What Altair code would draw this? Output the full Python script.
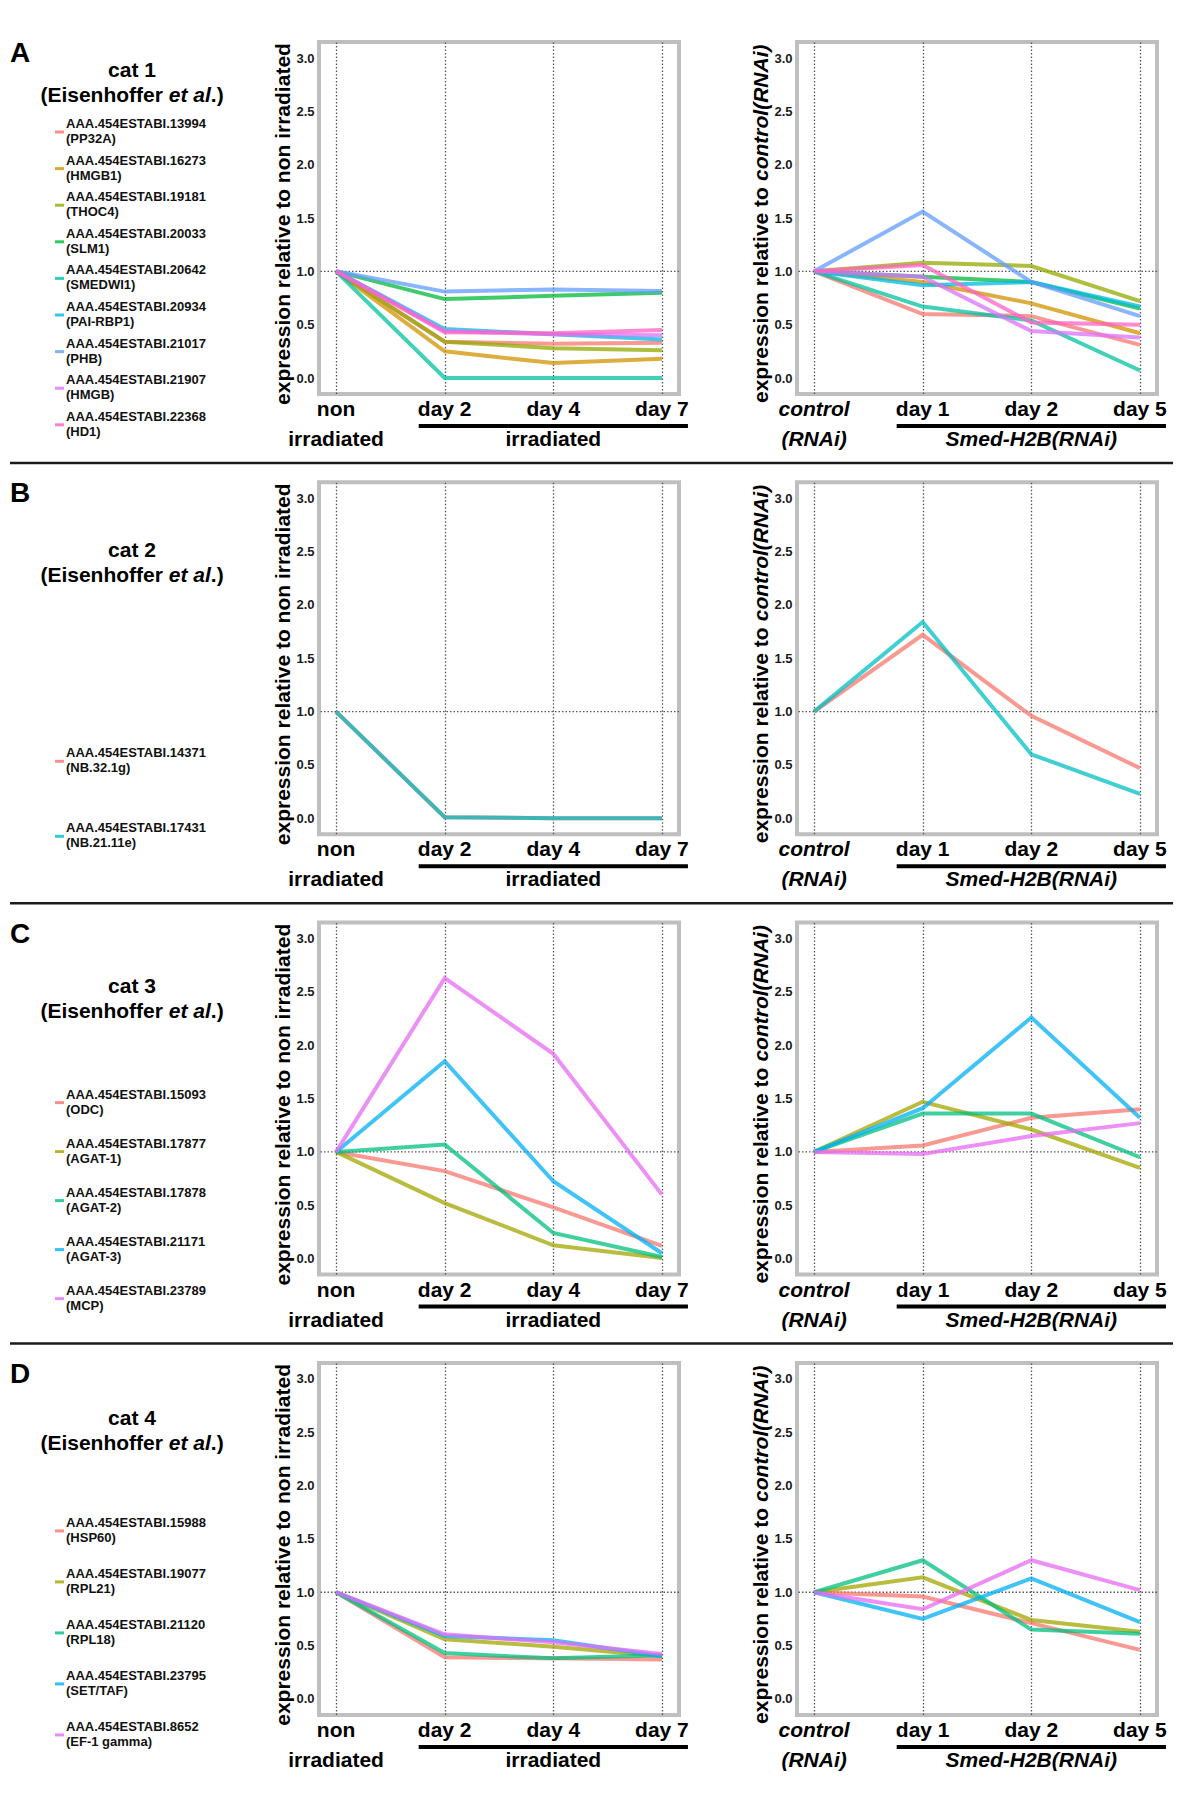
import altair as alt
import pandas as pd

FONT = "Liberation Sans"

# ---------------- data ----------------
LEFT_CATS = ["non", "day 2", "day 4", "day 7"]
RIGHT_CATS = ["control", "day 1", "day 2", "day 5"]

PAL9 = ["#F8766D", "#D39200", "#93AA00", "#00BA38", "#00C19F", "#00B9E3", "#619CFF", "#DB72FB", "#FF61C3"]
PAL2 = ["#F8766D", "#00BFC4"]
PAL5 = ["#F8766D", "#A3A500", "#00BF7D", "#00B0F6", "#E76BF3"]

# Row A  (cat 1)
A_IDS = ["AAA.454ESTABI.13994", "AAA.454ESTABI.16273", "AAA.454ESTABI.19181",
         "AAA.454ESTABI.20033", "AAA.454ESTABI.20642", "AAA.454ESTABI.20934",
         "AAA.454ESTABI.21017", "AAA.454ESTABI.21907", "AAA.454ESTABI.22368"]
A_NAMES = ["(PP32A)", "(HMGB1)", "(THOC4)", "(SLM1)", "(SMEDWI1)", "(PAI-RBP1)", "(PHB)", "(HMGB)", "(HD1)"]
A_IRR = [
    [1.0, 0.34, 0.32, 0.33],
    [1.0, 0.25, 0.14, 0.18],
    [1.0, 0.34, 0.28, 0.26],
    [1.0, 0.74, 0.77, 0.80],
    [1.0, 0.00, 0.00, 0.00],
    [1.0, 0.46, 0.41, 0.36],
    [1.0, 0.81, 0.83, 0.815],
    [1.0, 0.44, 0.41, 0.40],
    [1.0, 0.43, 0.42, 0.45],
]
A_RNAI = [
    [1.0, 0.60, 0.58, 0.31],
    [1.0, 0.90, 0.70, 0.42],
    [1.0, 1.08, 1.05, 0.72],
    [1.0, 0.95, 0.90, 0.65],
    [1.0, 0.67, 0.54, 0.07],
    [1.0, 0.87, 0.90, 0.67],
    [1.0, 1.56, 0.90, 0.58],
    [1.0, 0.95, 0.44, 0.38],
    [1.0, 1.06, 0.52, 0.50],
]

# Row B  (cat 2)
B_IDS = ["AAA.454ESTABI.14371", "AAA.454ESTABI.17431"]
B_NAMES = ["(NB.32.1g)", "(NB.21.11e)"]
B_IRR = [
    [1.0, 0.01, 0.00, 0.00],
    [1.0, 0.01, 0.00, 0.00],
]
B_RNAI = [
    [1.0, 1.72, 0.96, 0.47],
    [1.0, 1.84, 0.60, 0.23],
]

# Row C  (cat 3)
C_IDS = ["AAA.454ESTABI.15093", "AAA.454ESTABI.17877", "AAA.454ESTABI.17878",
         "AAA.454ESTABI.21171", "AAA.454ESTABI.23789"]
C_NAMES = ["(ODC)", "(AGAT-1)", "(AGAT-2)", "(AGAT-3)", "(MCP)"]
C_IRR = [
    [1.0, 0.82, 0.48, 0.12],
    [1.0, 0.52, 0.125, 0.005],
    [1.0, 1.07, 0.24, 0.015],
    [1.0, 1.85, 0.725, 0.05],
    [1.0, 2.63, 1.92, 0.60],
]
C_RNAI = [
    [1.0, 1.06, 1.32, 1.40],
    [1.0, 1.47, 1.21, 0.85],
    [1.0, 1.36, 1.36, 0.95],
    [1.0, 1.41, 2.26, 1.32],
    [1.0, 0.98, 1.15, 1.27],
]

# Row D  (cat 4)
D_IDS = ["AAA.454ESTABI.15988", "AAA.454ESTABI.19077", "AAA.454ESTABI.21120",
         "AAA.454ESTABI.23795", "AAA.454ESTABI.8652"]
D_NAMES = ["(HSP60)", "(RPL21)", "(RPL18)", "(SET/TAF)", "(EF-1 gamma)"]
D_IRR = [
    [1.0, 0.39, 0.38, 0.37],
    [1.0, 0.56, 0.49, 0.40],
    [1.0, 0.43, 0.38, 0.41],
    [1.0, 0.59, 0.55, 0.40],
    [1.0, 0.605, 0.53, 0.42],
]
D_RNAI = [
    [1.0, 0.96, 0.71, 0.46],
    [1.0, 1.14, 0.74, 0.63],
    [1.0, 1.30, 0.65, 0.61],
    [1.0, 0.75, 1.13, 0.72],
    [1.0, 0.84, 1.30, 1.02],
]

Y_TICKS = [0.0, 0.5, 1.0, 1.5, 2.0, 2.5, 3.0]

# x-axis label text (line 1, line 2, group bar)
LEFT_LABELS = {
    "line1": [("non", "non", False), ("day 2", "day 2", False), ("day 4", "day 4", False), ("day 7", "day 7", False)],
    "line2": [("non", "irradiated", False), ("day 4", "irradiated", False)],
    "bar": ("day 2", "day 7"),
}
RIGHT_LABELS = {
    "line1": [("control", "control", True), ("day 1", "day 1", False), ("day 2", "day 2", False), ("day 5", "day 5", False)],
    "line2": [("control", "(RNAi)", True), ("day 2", "Smed-H2B(RNAi)", True)],
    "bar": ("day 1", "day 5"),
}

PW, PH = 360, 352
BORDER = alt.ViewBackground(stroke="#bfbfbf", strokeWidth=4)
NOBORDER = alt.ViewBackground(stroke="transparent")


def single(text):
    return pd.DataFrame({"t": [text]})


def plot_panel(ids, series, pal, cats, labels, side):
    rows = []
    for gi, (gid, vals) in enumerate(zip(ids, series)):
        for xi, (c, v) in enumerate(zip(cats, vals)):
            rows.append({"gene": gid, "gi": gi, "cat": c, "xi": xi, "value": v, "col": pal[gi]})
    df = pd.DataFrame(rows)

    xscale = alt.Scale(type="point", domain=cats, padding=0.157)
    xaxis = alt.Axis(grid=True, gridDash=[1.5, 2], gridColor="#555555", gridWidth=1.3,
                     labels=False, ticks=False, domain=False, title=None)
    yscale = alt.Scale(domain=[-0.15, 3.15], nice=False, zero=False)
    yaxis = alt.Axis(values=Y_TICKS, format=".1f", labelFont=FONT, labelFontWeight="bold",
                     labelFontSize=13, labelColor="#1a1a1a", ticks=False, tickSize=0,
                     labelPadding=5, domain=False, grid=False, title=None)

    def X(field):
        return alt.X(f"{field}:N", scale=xscale, axis=xaxis)

    hline = alt.Chart(pd.DataFrame({"v": [1.0]})).mark_rule(
        strokeDash=[1.5, 2], color="#555555", strokeWidth=1.3
    ).encode(y=alt.Y("v:Q", scale=yscale, axis=yaxis))

    lines = alt.Chart(df).mark_line(strokeWidth=4, opacity=0.75, strokeCap="butt").encode(
        x=X("cat"),
        y=alt.Y("value:Q", scale=yscale, axis=yaxis),
        color=alt.Color("col:N", scale=None),
        detail="gene:N",
        order="xi:Q",
    )

    layers = [hline, lines]

    for key, ypos in (("line1", 374), ("line2", 404)):
        for ital in (False, True):
            items = [(c, t) for (c, t, it) in labels[key] if it == ital]
            if not items:
                continue
            ldf = pd.DataFrame({"cat": [c for c, _ in items], "txt": [t for _, t in items]})
            layers.append(
                alt.Chart(ldf).mark_text(
                    align="center", baseline="alphabetic", fontSize=21, fontWeight="bold",
                    font=FONT, color="#000000", fontStyle="italic" if ital else "normal"
                ).encode(x=X("cat"), y=alt.value(ypos), text="txt:N")
            )

    b0, b1 = labels["bar"]
    layers.append(
        alt.Chart(pd.DataFrame({"a": [b0], "b": [b1]})).mark_rule(
            strokeWidth=4, color="#000000", xOffset=-26, x2Offset=26
        ).encode(x=X("a"), x2=alt.X2("b"), y=alt.value(384))
    )

    if side == "left":
        layers.append(
            alt.Chart(single("expression relative to non irradiated")).mark_text(
                angle=270, align="center", baseline="middle", fontSize=21, fontWeight="bold",
                font=FONT, color="#000000"
            ).encode(x=alt.value(-35), y=alt.value(182), text="t:N")
        )
    else:
        layers.append(
            alt.Chart(single("expression relative to")).mark_text(
                angle=270, align="left", baseline="middle", fontSize=21, fontWeight="bold",
                font=FONT, color="#000000"
            ).encode(x=alt.value(-35), y=alt.value(361), text="t:N")
        )
        layers.append(
            alt.Chart(single("control(RNAi)")).mark_text(
                angle=270, align="left", baseline="middle", fontSize=21, fontWeight="bold",
                fontStyle="italic", font=FONT, color="#000000"
            ).encode(x=alt.value(-35), y=alt.value(139), text="t:N")
        )

    return alt.layer(*layers).properties(width=PW, height=PH, view=BORDER)


def legend_panel(letter, cat_label, ids, names, pal, title_y, y0, step, separator):
    n = len(ids)
    df = pd.DataFrame({"idx": list(range(n)), "gid": ids, "name": names, "col": pal[:n]})
    ysc = alt.Scale(domain=[0, 1], range=[y0, y0 + step], nice=False, zero=False)
    yenc = alt.Y("idx:Q", scale=ysc, axis=None)
    base = alt.Chart(df)

    sw = base.mark_rule(strokeWidth=3, yOffset=8, opacity=0.8).encode(
        x=alt.value(45), x2=alt.value(54), y=yenc, color=alt.Color("col:N", scale=None)
    )
    t1 = base.mark_text(align="left", baseline="middle", fontSize=13, fontWeight="bold",
                        font=FONT, color="#111111").encode(x=alt.value(56), y=yenc, text="gid:N")
    t2 = base.mark_text(align="left", baseline="middle", fontSize=13, fontWeight="bold",
                        font=FONT, color="#111111", dy=15).encode(x=alt.value(56), y=yenc, text="name:N")

    let = alt.Chart(single(letter)).mark_text(
        align="left", baseline="alphabetic", fontSize=28, fontWeight="bold", font=FONT, color="#000000"
    ).encode(x=alt.value(0), y=alt.value(20), text="t:N")

    cat = alt.Chart(single(cat_label)).mark_text(
        align="center", baseline="alphabetic", fontSize=21, fontWeight="bold", font=FONT, color="#000000"
    ).encode(x=alt.value(122), y=alt.value(title_y), text="t:N")

    e1 = alt.Chart(single("(Eisenhoffer")).mark_text(
        align="left", baseline="alphabetic", fontSize=21, fontWeight="bold", font=FONT, color="#000000"
    ).encode(x=alt.value(30.4), y=alt.value(title_y + 25), text="t:N")
    e2 = alt.Chart(single("et al")).mark_text(
        align="left", baseline="alphabetic", fontSize=21, fontWeight="bold", fontStyle="italic",
        font=FONT, color="#000000"
    ).encode(x=alt.value(158.8), y=alt.value(title_y + 25), text="t:N")
    e3 = alt.Chart(single(".)")).mark_text(
        align="left", baseline="alphabetic", fontSize=21, fontWeight="bold", font=FONT, color="#000000"
    ).encode(x=alt.value(200.8), y=alt.value(title_y + 25), text="t:N")

    layers = [sw, t1, t2, let, cat, e1, e2, e3]
    if separator:
        layers.append(
            alt.Chart(single("sep")).mark_rule(strokeWidth=2.5, color="#1a1a1a").encode(
                x=alt.value(0), x2=alt.value(1163), y=alt.value(421)
            )
        )
    return alt.layer(*layers).properties(width=191, height=PH, view=NOBORDER)


ROWS = [
    ("A", "cat 1", A_IDS, A_NAMES, A_IRR, A_RNAI, PAL9, 35, 82, 36.6, True),
    ("B", "cat 2", B_IDS, B_NAMES, B_IRR, B_RNAI, PAL2, 75, 271, 75, True),
    ("C", "cat 3", C_IDS, C_NAMES, C_IRR, C_RNAI, PAL5, 70, 172, 49, True),
    ("D", "cat 4", D_IDS, D_NAMES, D_IRR, D_RNAI, PAL5, 62, 160, 51, False),
]

cells = []
for letter, catl, ids, names, irr, rnai, pal, ty, y0, step, sep in ROWS:
    cells.append(legend_panel(letter, catl, ids, names, pal, ty, y0, step, sep))
    cells.append(plot_panel(ids, irr, pal, LEFT_CATS, LEFT_LABELS, "left"))
    cells.append(plot_panel(ids, rnai, pal, RIGHT_CATS, RIGHT_LABELS, "right"))

chart = alt.concat(
    *cells, columns=3, spacing={"row": 88.3, "column": 118}, bounds="flush"
).properties(
    padding={"left": 0, "top": 31, "right": 10, "bottom": 10}
).configure(font=FONT)

chart.save("out.html", embed_options={"renderer": "svg", "actions": False})
